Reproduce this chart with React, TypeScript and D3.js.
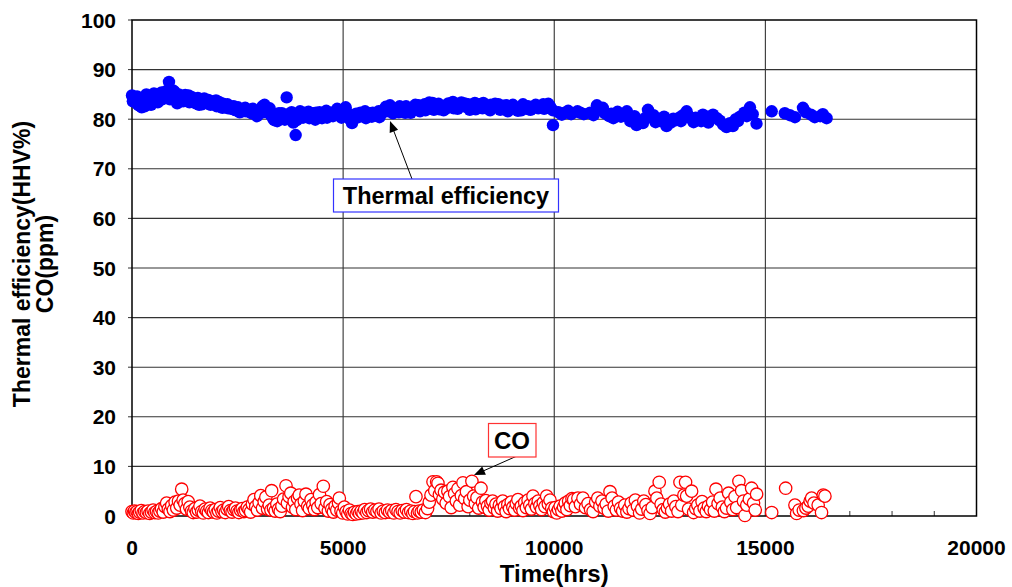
import React from "react";
import * as d3 from "d3";

// ---- Data (hours, value) ----
const effData: [number, number][] = [
  [0,84.8],[40,84.3],[80,83.5],[120,84.6],[160,82.8],[200,83.9],[250,84.2],[300,82.6],[340,85.0],[390,84.1],
  [430,83.2],[480,84.7],[520,85.2],[570,84.0],[610,83.4],[660,85.1],[700,85.4],[750,84.6],[800,85.6],[850,84.9],
  [876,87.5],[920,85.2],[970,85.8],[1020,84.4],[1070,83.2],[1110,85.0],[1160,84.6],[1210,83.6],[1260,84.9],[1310,84.1],
  [1360,83.4],[1410,84.5],[1460,84.0],[1510,83.2],[1560,84.3],[1610,83.8],[1660,83.0],[1710,84.2],[1760,83.5],[1810,83.9],
  [1860,82.9],[1910,83.6],[1960,83.2],[2010,82.6],[2060,83.5],[2110,82.8],[2160,83.1],[2210,82.4],[2260,83.0],[2310,82.7],
  [2360,82.1],[2410,82.6],[2460,81.8],[2510,82.4],[2570,82.0],[2620,81.6],[2680,82.3],[2740,81.9],[2800,81.4],[2860,82.1],
  [2920,81.5],[2980,80.9],[3030,81.7],[3090,82.6],[3140,82.9],[3190,82.3],[3240,81.6],[3290,80.8],[3340,80.2],[3390,80.8],
  [3440,79.6],[3500,80.4],[3550,81.2],[3600,80.6],[3663,84.4],[3700,81.0],[3760,80.2],[3820,79.3],[3876,76.8],[3930,80.5],
  [3980,81.6],[4030,80.9],[4080,81.3],[4130,80.7],[4180,81.5],[4230,80.8],[4290,81.2],[4340,79.9],[4390,80.6],[4440,81.4],
  [4500,80.2],[4550,81.0],[4600,81.7],[4650,80.8],[4700,81.3],[4760,80.6],[4810,81.5],[4860,82.1],[4910,81.0],[4960,80.3],
  [5010,81.6],[5060,82.4],[5110,81.2],[5160,80.0],[5210,79.2],[5260,80.5],[5310,81.1],[5360,80.4],[5410,81.3],[5470,80.8],
  [5520,81.6],[5570,80.9],[5620,81.2],[5680,80.5],[5730,81.0],[5790,80.7],[5840,81.6],[5900,81.1],[5950,81.8],[6010,82.5],
  [6060,82.1],[6110,82.8],[6160,82.3],[6210,81.7],[6270,82.0],[6320,81.4],[6380,82.2],[6430,81.8],[6490,82.6],[6540,82.0],
  [6600,81.3],[6650,82.4],[6710,82.9],[6760,82.2],[6820,81.6],[6870,82.5],[6930,83.0],[6990,82.3],[7040,83.4],[7100,82.7],
  [7150,81.9],[7210,82.6],[7260,83.1],[7320,82.4],[7380,81.8],[7430,82.7],[7490,83.2],[7540,82.5],[7600,83.5],[7660,82.8],
  [7710,82.1],[7770,83.0],[7830,82.6],[7880,83.2],[7940,82.4],[8000,81.9],[8060,82.7],[8120,83.3],[8180,82.5],[8240,83.0],
  [8300,82.2],[8360,82.8],[8420,82.3],[8480,81.8],[8540,82.6],[8600,83.1],[8660,82.4],[8720,81.9],[8780,82.7],[8840,82.2],
  [8900,81.6],[8960,82.5],[9020,82.9],[9080,82.1],[9140,81.7],[9200,82.4],[9260,83.0],[9320,82.3],[9380,82.6],[9440,81.9],
  [9500,82.5],[9560,82.9],[9620,82.2],[9680,82.7],[9740,83.0],[9800,82.5],[9860,83.1],[9970,81.8],[9970,78.8],[10100,81.4],
  [10250,81.3],[10400,81.0],[10550,81.6],[10700,81.0],[10850,81.3],[11010,82.8],[11100,81.8],[11200,81.2],[11300,80.6],[11400,80.2],
  [11500,81.5],[11650,80.9],[11720,81.6],[11800,79.6],[11870,80.2],[11950,78.8],[12050,79.5],[12150,80.2],[12220,81.9],[12300,80.3],
  [12400,79.4],[12520,79.6],[12600,80.5],[12660,78.6],[12760,79.3],[12880,79.8],[12980,80.4],[13050,80.8],[13135,81.6],[13220,80.2],
  [13300,79.4],[13400,80.0],[13480,79.6],[13570,80.5],[13650,79.3],[13760,80.9],[13850,80.2],[14000,78.9],[14080,78.4],[14160,79.2],
  [14230,78.6],[14300,80.0],[14400,80.5],[14500,81.3],[14635,82.4],[14700,81.0],[14790,79.1],[15150,81.6],[15460,81.2],[15580,80.8],
  [15700,80.4],[15890,82.3],[15960,81.4],[16080,80.9],[16170,80.4],[16300,80.6],[16360,81.0],[16450,80.2],
];

// second batch of efficiency readings (overlapping the band)
const effData2: [number, number][] = [
  [20,83.6],[140,83.0],[230,82.4],[330,83.8],[450,82.9],[560,84.8],[680,83.9],[780,84.2],[900,84.0],[1000,85.6],
  [1130,83.9],[1240,84.3],[1340,84.8],[1480,83.6],[1590,82.9],[1700,83.4],[1830,83.1],[1990,83.8],[2140,82.3],[2280,82.2],
  [2430,81.9],[2550,81.4],[2700,81.6],[2840,81.2],[2960,80.6],[3110,81.4],[3260,82.2],[3370,79.8],[3480,81.2],[3620,79.9],
  [3780,81.4],[3900,79.8],[4050,80.3],[4200,80.2],[4360,81.3],[4480,80.9],[4620,80.3],[4780,81.1],[4940,80.8],[5080,80.6],
  [5230,80.3],[5380,81.0],[5540,80.2],[5700,81.3],[5860,80.4],[6030,81.6],[6180,81.2],[6340,82.6],[6470,81.3],[6630,81.8],
  [6790,82.8],[6950,81.8],[7120,83.3],[7280,82.0],[7450,82.2],[7620,82.2],[7800,83.4],[7960,83.0],[8140,82.0],[8320,83.3],
  [8500,82.9],[8680,83.0],[8860,82.8],[9040,82.3],[9220,81.8],[9400,82.0],[9580,82.4],[9760,82.1],[9900,82.6],[10180,80.9],
  [10330,81.7],[10620,81.3],[10930,80.8],[11150,82.3],[11350,81.1],[11580,80.5],[11900,80.6],[12100,79.2],[12350,80.8],[12560,80.1],
  [12820,80.1],[13000,79.6],[13180,80.6],[13350,80.3],[13520,80.9],[13700,80.1],[13920,79.7],[14120,78.8],[14350,79.6],[14560,80.6],
];

const coData: [number, number][] = [
  [0,0.9],[30,0.6],[60,1.0],[90,0.7],[120,0.9],[150,0.5],[180,0.8],[220,1.1],[260,0.6],[300,0.9],
  [340,0.7],[380,1.0],[420,0.5],[460,0.8],[500,1.2],[540,0.7],[580,0.9],[620,0.6],[660,1.0],[700,1.5],
  [740,0.8],[780,1.9],[820,2.6],[860,1.4],[900,0.9],[940,2.1],[980,1.2],[1020,2.8],[1060,1.6],[1100,3.0],
  [1140,2.2],[1177,5.4],[1210,3.2],[1250,2.5],[1290,1.4],[1330,2.9],[1370,1.8],[1410,1.0],[1450,0.7],[1490,1.5],
  [1530,0.8],[1570,1.2],[1610,2.0],[1650,0.9],[1690,0.6],[1730,1.4],[1770,1.0],[1810,0.7],[1850,1.6],[1890,1.1],
  [1930,0.8],[1970,1.3],[2010,0.6],[2050,1.0],[2090,1.7],[2130,0.9],[2170,1.2],[2210,0.7],[2250,1.4],[2290,1.9],
  [2330,1.1],[2370,0.8],[2410,1.3],[2450,1.6],[2490,1.0],[2530,0.7],[2570,1.2],[2610,1.5],[2650,0.9],[2690,1.1],
  [2730,1.8],[2770,1.3],[2810,0.8],[2850,2.4],[2890,3.3],[2930,1.9],[2970,1.2],[3010,2.7],[3050,4.1],[3090,1.6],
  [3130,2.9],[3170,3.8],[3210,1.4],[3250,2.2],[3290,1.2],[3307,5.1],[3350,1.6],[3390,1.0],[3430,2.4],[3470,1.4],
  [3510,0.9],[3550,2.0],[3590,3.4],[3647,6.1],[3680,2.6],[3720,3.9],[3760,4.6],[3800,1.8],[3840,2.9],[3880,1.3],
  [3920,3.6],[3960,4.2],[4000,2.4],[4040,1.1],[4080,3.0],[4120,4.4],[4160,2.0],[4200,1.5],[4240,3.3],[4280,2.2],
  [4320,1.3],[4360,2.8],[4400,1.7],[4440,4.3],[4480,2.5],[4531,6.0],[4570,1.6],[4610,2.9],[4650,1.0],[4690,2.3],
  [4730,1.4],[4770,0.8],[4810,2.0],[4850,1.2],[4890,2.6],[4910,3.6],[4950,1.0],[4990,0.6],[5030,1.8],[5070,0.9],
  [5110,0.4],[5150,1.2],[5190,0.5],[5230,0.3],[5270,0.8],[5310,0.4],[5350,0.9],[5390,0.5],[5430,1.0],[5470,0.6],
  [5510,1.3],[5560,0.7],[5600,1.1],[5650,1.4],[5700,0.8],[5750,1.2],[5800,0.9],[5850,1.4],[5900,0.6],[5950,1.0],
  [6000,0.7],[6050,1.2],[6100,0.8],[6150,1.1],[6200,0.6],[6250,1.3],[6300,0.9],[6350,0.6],[6400,1.1],[6450,0.8],
  [6500,1.3],[6550,0.7],[6600,1.0],[6650,0.5],[6690,0.9],[6725,3.9],[6760,0.6],[6800,1.0],[6850,0.8],[6900,1.2],
  [6950,0.7],[7000,1.5],[7040,2.8],[7080,4.2],[7128,6.9],[7170,5.1],[7215,6.9],[7246,6.6],[7280,4.3],[7320,5.2],
  [7360,3.4],[7400,4.8],[7440,2.6],[7480,5.0],[7520,3.9],[7560,1.7],[7600,5.8],[7640,4.5],[7680,3.0],[7720,5.5],
  [7760,2.2],[7800,4.1],[7838,6.7],[7880,3.5],[7920,4.9],[7960,1.9],[8000,3.2],[8050,7.0],[8090,4.0],[8130,2.5],
  [8170,3.7],[8210,1.6],[8265,5.6],[8300,2.8],[8340,1.8],[8380,3.1],[8420,2.0],[8460,1.2],[8500,2.6],[8540,3.0],
  [8580,1.6],[8620,2.4],[8660,1.0],[8700,2.2],[8740,1.5],[8780,3.0],[8820,1.9],[8860,0.9],[8900,2.3],[8940,1.5],
  [8980,2.8],[9020,1.8],[9060,1.2],[9100,2.5],[9140,3.3],[9180,1.6],[9220,2.0],[9260,1.1],[9300,2.7],[9340,1.7],
  [9380,3.2],[9420,2.2],[9460,1.4],[9496,4.0],[9540,2.5],[9580,1.8],[9620,3.0],[9660,2.1],[9700,1.3],[9740,2.7],
  [9780,1.9],[9820,4.0],[9860,2.4],[9900,3.2],[9940,1.6],[9980,0.9],[10020,1.7],[10060,0.6],[10100,1.3],[10140,2.0],
  [10180,1.0],[10220,1.8],[10260,2.6],[10300,1.3],[10340,3.0],[10380,2.1],[10420,3.5],[10460,3.3],[10500,1.9],[10560,3.6],
  [10620,2.4],[10680,3.6],[10740,1.7],[10800,2.5],[10860,1.3],[10920,0.9],[10980,2.8],[11030,3.6],[11080,2.0],[11130,3.0],
  [11180,1.6],[11230,2.4],[11280,1.0],[11320,4.9],[11370,3.6],[11420,2.0],[11470,1.2],[11520,2.8],[11570,1.6],[11620,1.0],
  [11670,2.2],[11720,0.8],[11770,1.5],[11820,2.6],[11870,1.2],[11920,3.2],[11970,2.0],[12020,0.6],[12070,1.4],[12120,3.0],
  [12170,2.3],[12220,1.1],[12270,0.5],[12320,1.7],[12385,5.0],[12430,3.6],[12486,6.8],[12530,2.4],[12580,1.3],[12630,0.8],
  [12680,1.6],[12730,2.4],[12780,1.0],[12830,3.0],[12880,1.9],[12930,0.9],[12977,6.8],[13020,2.2],[13070,4.2],[13110,6.8],
  [13135,4.0],[13180,1.4],[13253,5.0],[13300,0.7],[13350,1.5],[13400,2.2],[13450,1.0],[13500,2.9],[13550,1.6],[13600,0.9],
  [13650,2.0],[13700,1.3],[13750,2.8],[13790,1.0],[13830,5.4],[13880,2.5],[13930,3.6],[13980,1.8],[14030,0.9],[14080,1.6],
  [14130,4.6],[14180,2.8],[14230,1.3],[14280,3.9],[14320,1.7],[14373,7.0],[14437,5.1],[14480,3.0],[14515,0.1],[14560,2.2],
  [14620,3.4],[14674,5.6],[14720,2.6],[14760,1.2],[14792,4.4],[15150,0.7],[15480,5.6],[15700,2.2],[15740,0.5],[15800,1.2],
  [15900,1.1],[15960,1.6],[16015,2.0],[16060,3.0],[16095,3.6],[16150,2.6],[16250,2.2],[16330,0.7],[16370,4.2],[16410,4.0],
];

const xTicks = [0, 5000, 10000, 15000, 20000];
const xMinorTicks = d3.range(1000, 20000, 1000);
const yTicks = [0, 10, 20, 30, 40, 50, 60, 70, 80, 90, 100];
const yTitleLines = ["Thermal efficiency(HHV%)", "CO(ppm)"];
const xTitle = "Time(hrs)";
const effLabel = "Thermal efficiency";
const coLabel = "CO";

const FONT = "'Liberation Sans', Arial, sans-serif";

export default function App() {
  const W = 1012, H = 587;
  const x = d3.scaleLinear().domain([0, 20000]).range([132, 976.5]);
  const y = d3.scaleLinear().domain([0, 100]).range([516, 20]);
  const x0 = x(0), x1 = x(20000), y0 = y(0), y1 = y(100);
  const allEff = [...effData, ...effData2].sort((a, b) => a[0] - b[0]);

  const arrowHead = (tx: number, ty: number, fx: number, fy: number) => {
    const ang = Math.atan2(ty - fy, tx - fx);
    const L = 11, Wd = 4.5;
    const bx = tx - L * Math.cos(ang), by = ty - L * Math.sin(ang);
    const px = -Math.sin(ang) * Wd, py = Math.cos(ang) * Wd;
    return `M${tx},${ty}L${bx + px},${by + py}L${bx - px},${by - py}Z`;
  };

  return (
    <svg width={W} height={H} style={{ position: "absolute", left: 0, top: 0, background: "#fff" }}
      fontFamily={FONT}>
      <rect x={0} y={0} width={W} height={H} fill="#fff" />
      {yTicks.filter(t => t > 0 && t < 100).map(t => (
        <line key={"gy" + t} x1={x0} x2={x1} y1={y(t)} y2={y(t)} stroke="#333" strokeWidth={1.1} />
      ))}
      {xTicks.filter(t => t > 0 && t < 20000).map(t => (
        <line key={"gx" + t} x1={x(t)} x2={x(t)} y1={y1} y2={y0} stroke="#333" strokeWidth={1.1} />
      ))}
      {xMinorTicks.map(t => (
        <line key={"mx" + t} x1={x(t)} x2={x(t)} y1={y0} y2={y0 - 5} stroke="#333" strokeWidth={1} />
      ))}
      {yTicks.map(t => (
        <line key={"ty" + t} x1={x0 - 4} x2={x0} y1={y(t)} y2={y(t)} stroke="#333" strokeWidth={1} />
      ))}
      <rect x={x0} y={y1} width={x1 - x0} height={y0 - y1} fill="none" stroke="#000" strokeWidth={1.5} />

      {allEff.map(([h, v], i) => (
        <circle key={"e" + i} cx={x(h)} cy={y(v)} r={6.2} fill="#0000ff" />
      ))}
      {coData.map(([h, v], i) => (
        <circle key={"c" + i} cx={x(h)} cy={y(v)} r={6.2} fill="#fff" stroke="#ff0000" strokeWidth={1.3} />
      ))}

      {yTicks.map(t => (
        <text key={"ly" + t} x={116} y={y(t) + 7.5} textAnchor="end" fontSize={21} fontWeight="bold">{t}</text>
      ))}
      {xTicks.map(t => (
        <text key={"lx" + t} x={x(t)} y={555} textAnchor="middle" fontSize={21} fontWeight="bold">{t}</text>
      ))}

      <text x={(x0 + x1) / 2} y={582} textAnchor="middle" fontSize={24} fontWeight="bold">{xTitle}</text>
      <g transform={`translate(0, ${(y0 + y1) / 2 - 4}) rotate(-90)`}>
        <text x={0} y={30} textAnchor="middle" fontSize={23} fontWeight="bold">{yTitleLines[0]}</text>
        <text x={0} y={53} textAnchor="middle" fontSize={23} fontWeight="bold">{yTitleLines[1]}</text>
      </g>

      <line x1={412} y1={179} x2={393} y2={129} stroke="#000" strokeWidth={1} />
      <path d={arrowHead(390, 121, 412, 179)} fill="#000" />
      <rect x={333.5} y={179} width={225} height={33} fill="#fff" stroke="#3333ff" strokeWidth={1.2} />
      <text x={446} y={204} textAnchor="middle" fontSize={23.5} fontWeight="bold">{effLabel}</text>

      <line x1={517} y1={456} x2={482} y2={471.5} stroke="#000" strokeWidth={1} />
      <path d={arrowHead(474, 475, 517, 456)} fill="#000" />
      <rect x={488.5} y={423.5} width={47.5} height={33.5} fill="#fff" stroke="#ff3333" strokeWidth={1.2} />
      <text x={512} y={449} textAnchor="middle" fontSize={24} fontWeight="bold">{coLabel}</text>
    </svg>
  );
}
